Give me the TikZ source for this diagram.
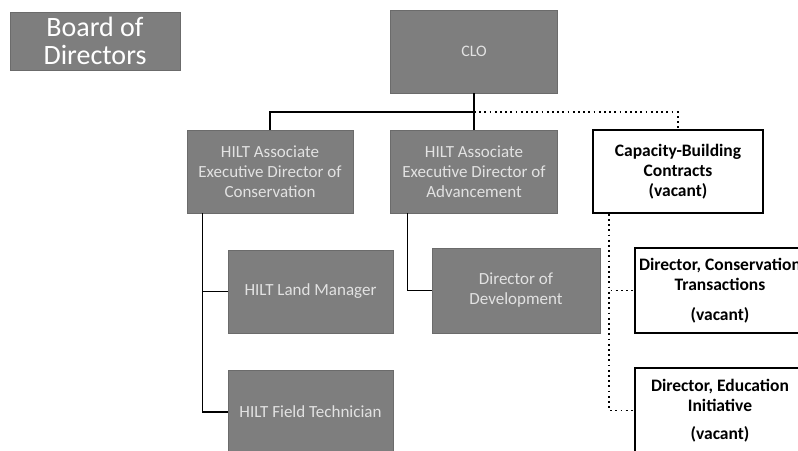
\documentclass[tikz,border=0pt]{standalone}
\usepackage{fontspec}
\setmainfont{Carlito}
\usepackage{tikz}
\definecolor{boxgray}{RGB}{126,126,126}
\definecolor{boxtext}{RGB}{226,226,226}

\begin{document}
\begin{tikzpicture}[x=1pt,y=-1pt]
		\tikzstyle{graybox}=[fill=boxgray, draw=boxgray!85!black, text=boxtext, align=center, inner sep=1pt, font=\fontsize{17}{20}\selectfont]
		\tikzstyle{openbox}=[fill=white, draw=black, line width=1.5pt, align=center, inner sep=1pt, font=\bfseries\fontsize{17.5}{20}\selectfont]
		\tikzstyle{link}=[line width=1.2pt]
		\tikzstyle{dotlink}=[line width=1.8pt, dash pattern=on 1.8pt off 3.4pt]
		\useasboundingbox (0,0) rectangle (798,450);
		\clip (0,0) rectangle (798,450);
		% top row
		\node[graybox, text=white, minimum width=170, minimum height=58, font=\fontsize{28}{28}\selectfont] (board) at (95,41) {Board of\\Directors};
		\node[graybox, minimum width=167, minimum height=83, font=\fontsize{16}{18}\selectfont] (clo) at (474,51.5) {CLO};
		% second row
		\node[graybox, minimum width=166, minimum height=83] (assoccons) at (270,171.5) {HILT Associate\\Executive Director of\\Conservation};
		\node[graybox, minimum width=167, minimum height=83] (assocadv) at (474,171.5) {HILT Associate\\Executive Director of\\Advancement};
		\node[openbox, minimum width=170, minimum height=83] (capacity) at (678,171.5) {Capacity-Building\\Contracts\\(vacant)};
		% third and fourth rows
		\node[graybox, minimum width=165, minimum height=83] (landmgr) at (310.5,291.5) {HILT Land Manager};
		\node[graybox, minimum width=168, minimum height=85] (devdir) at (516,290.5) {Director of\\Development};
		\node[openbox, minimum width=170, minimum height=85] (constrans) at (720,290.5) {Director, Conservation\\Transactions\\[10pt](vacant)};
		\node[graybox, minimum width=165, minimum height=84] (fieldtech) at (310.5,412) {HILT Field Technician};
		\node[openbox, minimum width=170, minimum height=85] (eduinit) at (720,410.5) {Director, Education\\Initiative\\[8pt](vacant)};
		% connectors
		\coordinate (split) at (474,112);
		\draw[link] (clo.south) -- (assocadv.north);
		\draw[link] (split) -| (assoccons.north);
		\draw[dotlink] (split) -| (capacity.north);
		\draw[link] ([xshift=16]assoccons.south west) |- (landmgr.west);
		\draw[link] ([xshift=16]assoccons.south west) |- (fieldtech.west);
		\draw[link] ([xshift=17]assocadv.south west) |- (devdir.west);
		\draw[dotlink] ([xshift=17]capacity.south west) |- (constrans.west);
		\draw[dotlink] ([xshift=17]capacity.south west) |- (eduinit.west);
	\end{tikzpicture}
\end{document}
